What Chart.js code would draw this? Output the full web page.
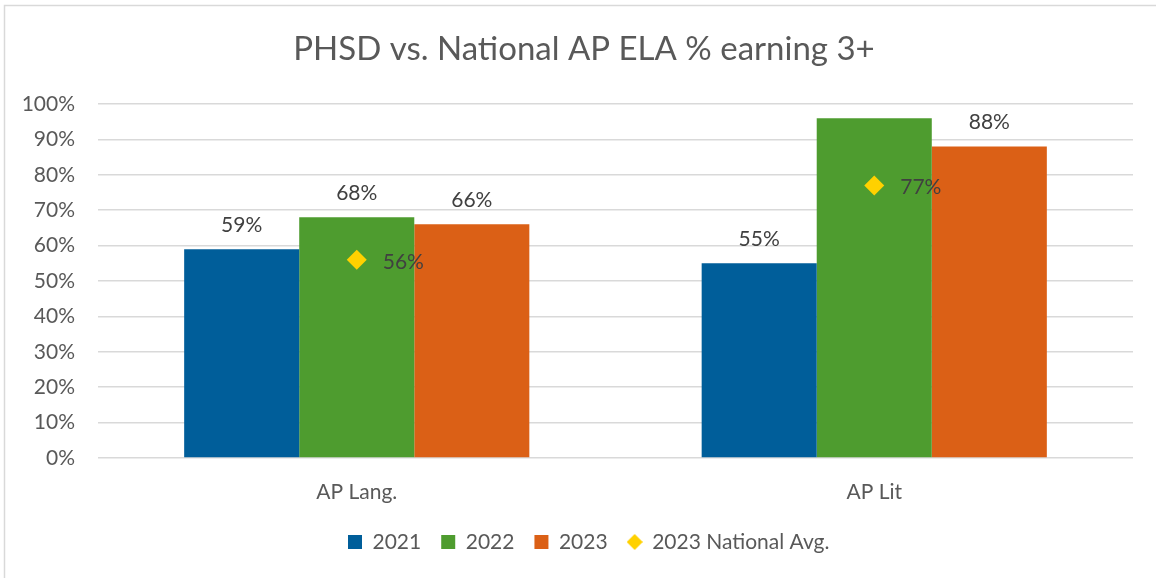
<!DOCTYPE html>
<html><head><meta charset="utf-8">
<script src="https://cdn.jsdelivr.net/npm/chart.js@4"></script>
<style>html,body{margin:0;padding:0;background:#fff}#wrap{width:1161px;height:578px;position:relative}</style>
</head><body><div id="wrap"><canvas id="c"></canvas></div>
<script>
const categories = ['AP Lang.', 'AP Lit'];
const seriesNames = ['2021', '2022', '2023', '2023 National Avg.'];
const values2021 = [59, 55];
const values2022 = [68, 96];
const values2023 = [66, 88];
const nationalAvg2023 = [56, 77];
const showLabels2021 = [true, true];
const showLabels2022 = [true, false];
const showLabels2023 = [true, true];
const yMin = 0, yMax = 100, yStep = 10;

const FONT = 'Lato';
const TXT = '#595959';
const LEGEND_PAD = 20;
const LEGEND_H = 52;

function diamondImage(size, color) {
  const c = document.createElement('canvas');
  c.width = size; c.height = size;
  const g = c.getContext('2d');
  g.fillStyle = color;
  g.beginPath();
  g.moveTo(size / 2, 0); g.lineTo(size, size / 2); g.lineTo(size / 2, size); g.lineTo(0, size / 2);
  g.closePath(); g.fill();
  return c;
}
const legendDiamond = diamondImage(16, '#FFD100');

const framePlugin = {
  id: 'frame',
  beforeDraw(chart) {
    const ctx = chart.ctx;
    ctx.save();
    ctx.strokeStyle = '#D9D9D9';
    ctx.lineWidth = 1.5;
    ctx.beginPath();
    ctx.moveTo(4.5, 578); ctx.lineTo(4.5, 5.5); ctx.lineTo(1156, 5.5);
    ctx.stroke();
    ctx.restore();
  }
};

const layoutTweakPlugin = {
  id: 'layoutTweak',
  afterInit(chart) {
    const lg = chart.legend;
    const orig = lg.fit.bind(lg);
    lg.fit = function () { orig(); this.height = LEGEND_H; };
  },
  afterLayout(chart) {
    const lg = chart.legend;
    const lw = lg.lineWidths[0];
    const start = (lg.left + LEGEND_PAD + lg.right - lw) / 2;
    const shift = 348 - start;
    lg.left += shift; lg.right += shift;
    const h = lg.height;
    lg.top = 542 - LEGEND_PAD - 10.5;
    lg.bottom = lg.top + h;
    const tb = chart.titleBlock;
    if (tb) { tb.left += 15; tb.right += 15; }
  }
};

const labelPlugin = {
  id: 'valueLabels',
  afterDatasetsDraw(chart) {
    const ctx = chart.ctx;
    ctx.save();
    ctx.font = '21px ' + FONT;
    ctx.fillStyle = '#404040';
    chart.data.datasets.forEach((ds, i) => {
      const meta = chart.getDatasetMeta(i);
      meta.data.forEach((el, j) => {
        const v = ds.data[j];
        if (ds.type === 'line') {
          ctx.textAlign = 'left';
          ctx.textBaseline = 'middle';
          ctx.fillText(v + '%', el.x + 26, el.y + 2);
        } else {
          if (!ds.showLabels[j]) return;
          ctx.textAlign = 'center';
          ctx.textBaseline = 'alphabetic';
          ctx.fillText(v + '%', el.x, el.y - 17);
        }
      });
    });
    ctx.restore();
  }
};

function draw() {
  new Chart(document.getElementById('c'), {
    data: {
      labels: categories,
      datasets: [
        { type: 'bar', label: seriesNames[0], data: values2021, backgroundColor: '#005E9A', showLabels: showLabels2021, order: 1 },
        { type: 'bar', label: seriesNames[1], data: values2022, backgroundColor: '#4E9C2F', showLabels: showLabels2022, order: 1 },
        { type: 'bar', label: seriesNames[2], data: values2023, backgroundColor: '#DB6016', showLabels: showLabels2023, order: 1 },
        { type: 'line', label: seriesNames[3], data: nationalAvg2023, showLine: false, backgroundColor: '#FFD100', borderColor: '#FFD100', borderWidth: 0,
          pointStyle: 'rectRot', pointRadius: 10, pointHoverRadius: 10, pointBorderWidth: 0, order: 0 }
      ]
    },
    options: {
      responsive: true,
      maintainAspectRatio: false,
      animation: false,
      devicePixelRatio: 1,
      categoryPercentage: 0.667,
      barPercentage: 1.0,
      layout: { padding: { left: 5, right: 28, top: 0, bottom: 0 } },
      scales: {
        x: {
          grid: { display: false, drawTicks: false },
          border: { display: false },
          ticks: { color: TXT, font: { family: FONT, size: 21 }, padding: 21.4 }
        },
        y: {
          min: yMin, max: yMax,
          afterFit(scale) { scale.width = 93; },
          grid: { color: '#D9D9D9', lineWidth: 1.5, drawTicks: false },
          border: { display: false },
          ticks: { stepSize: yStep, color: TXT, font: { family: FONT, size: 21 }, padding: 23, callback: v => v + '%' }
        }
      },
      plugins: {
        title: { display: true, text: 'PHSD vs. National AP ELA % earning 3+', color: TXT,
          font: { family: FONT, size: 33, weight: 'normal' }, padding: { top: 30, bottom: 34.4 } },
        legend: {
          position: 'bottom',
          labels: {
            color: TXT, font: { family: FONT, size: 21 }, usePointStyle: true, boxWidth: 14, boxHeight: 14, padding: LEGEND_PAD,
            sort: (a, b) => a.datasetIndex - b.datasetIndex,
            generateLabels(chart) {
              const items = Chart.defaults.plugins.legend.labels.generateLabels(chart);
              items.forEach(it => {
                const ds = chart.data.datasets[it.datasetIndex];
                it.pointStyle = ds.type === 'line' ? legendDiamond : 'rect';
                it.lineWidth = 0;
              });
              return items;
            }
          }
        },
        tooltip: { enabled: false }
      }
    },
    plugins: [framePlugin, layoutTweakPlugin, labelPlugin]
  });
}
(document.fonts && document.fonts.load ? Promise.all([document.fonts.load('21px Lato'), document.fonts.load('33px Lato')]) : Promise.resolve()).then(draw, draw);
</script>
</body></html>
